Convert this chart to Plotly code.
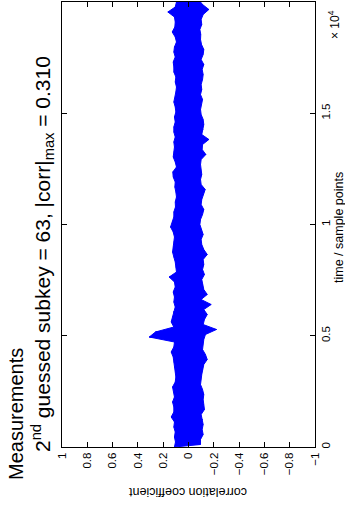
import plotly.graph_objects as go

# ---------------- data ----------------
sample_idx = [0, 225, 449, 674, 899, 1124, 1348, 1573, 1798, 2022, 2247, 2472, 2697, 2921, 3146,
              3371, 3596, 3820, 4045, 4270, 4494, 4719, 4944, 5169, 5393, 5618, 5843, 6067, 6292, 6517,
              6742, 6966, 7191, 7416, 7640, 7865, 8090, 8315, 8539, 8764, 8989, 9213, 9438, 9663, 9888,
              10112, 10337, 10562, 10787, 11011, 11236, 11461, 11685, 11910, 12135, 12360, 12584, 12809, 13034, 13258,
              13483, 13708, 13933, 14157, 14382, 14607, 14831, 15056, 15281, 15506, 15730, 15955, 16180, 16404, 16629,
              16854, 17079, 17303, 17528, 17753, 17978, 18202, 18427, 18652, 18876, 19101, 19326, 19551, 19775, 20000]

corr_upper = [0.111, 0.103, 0.111, 0.105, 0.116, 0.111, 0.137, 0.116, 0.116, 0.126, 0.111, 0.116, 0.126, 0.105, 0.100,
              0.105, 0.111, 0.116, 0.121, 0.137, 0.116, 0.111, 0.310, 0.261, 0.116, 0.137, 0.126, 0.121, 0.105, 0.116,
              0.111, 0.121, 0.105, 0.111, 0.153, 0.095, 0.100, 0.105, 0.116, 0.126, 0.121, 0.116, 0.111, 0.121, 0.142,
              0.129, 0.116, 0.116, 0.103, 0.105, 0.095, 0.100, 0.108, 0.105, 0.121, 0.124, 0.095, 0.105, 0.121, 0.116,
              0.111, 0.116, 0.105, 0.116, 0.116, 0.105, 0.111, 0.100, 0.105, 0.116, 0.105, 0.100, 0.095, 0.105, 0.100,
              0.116, 0.116, 0.121, 0.105, 0.116, 0.111, 0.095, 0.105, 0.129, 0.108, 0.105, 0.111, 0.163, 0.105, 0.095]

corr_lower = [-0.095, -0.095, -0.116, -0.108, -0.116, -0.111, -0.100, -0.126, -0.121, -0.116, -0.121, -0.111, -0.095, -0.100, -0.105,
              -0.111, -0.121, -0.148, -0.134, -0.111, -0.116, -0.121, -0.134, -0.221, -0.116, -0.126, -0.148, -0.121, -0.179, -0.100,
              -0.148, -0.121, -0.111, -0.105, -0.126, -0.111, -0.121, -0.116, -0.148, -0.121, -0.105, -0.100, -0.116, -0.105, -0.090,
              -0.095, -0.111, -0.121, -0.100, -0.105, -0.116, -0.132, -0.100, -0.095, -0.105, -0.100, -0.095, -0.100, -0.137, -0.108,
              -0.111, -0.161, -0.105, -0.116, -0.121, -0.116, -0.100, -0.095, -0.100, -0.111, -0.095, -0.105, -0.100, -0.111, -0.116,
              -0.108, -0.121, -0.100, -0.116, -0.121, -0.103, -0.095, -0.097, -0.090, -0.105, -0.100, -0.116, -0.161, -0.111, -0.095]

corr_ticks = [1, 0.8, 0.6, 0.4, 0.2, 0, -0.2, -0.4, -0.6, -0.8, -1]
corr_tick_labels = ["1", "0.8", "0.6", "0.4", "0.2", "0", "\u22120.2", "\u22120.4", "\u22120.6", "\u22120.8", "\u22121"]
time_ticks = [0, 5000, 10000, 15000, 20000]
time_tick_labels = ["0", "0.5", "1", "1.5", "2"]

title_line1 = "Measurements"
title_line2 = "2<sup>nd</sup> guessed subkey = 63, |corr|<sub>max</sub> = 0.310"
xlabel = "time / sample points"
ylabel = "correlation coefficient"
exponent_label = "\u00d7 10<sup>4</sup>"

# ---------------- build the band ----------------
half = (sample_idx[1] - sample_idx[0]) / 2.0
lower_t = [min(t + half, sample_idx[-1]) for t in sample_idx]

# filled envelope: up the positive side, back down the negative side
poly_x = list(corr_upper) + list(reversed(corr_lower))
poly_y = list(sample_idx) + list(reversed(lower_t))

# zig-zag through the samples (the noisy signal look)
zz_x, zz_y = [], []
for t, tl, hi, lo in zip(sample_idx, lower_t, corr_upper, corr_lower):
    zz_x += [hi, lo]
    zz_y += [t, tl]

W, H = 345, 512
L, R, T, B = 62, 30, 2, 65
pw, ph = W - L - R, H - T - B

def px(x):
    return (x - L) / pw

def py(y):
    return (H - B - y) / ph

FONT = "Liberation Sans, Arial, Helvetica, sans-serif"
BLUE = "#0000ff"

fig = go.Figure()
fig.add_trace(go.Scatter(x=poly_x, y=poly_y, mode="lines", fill="toself",
                         fillcolor=BLUE, line=dict(color=BLUE, width=1),
                         hoverinfo="skip", showlegend=False))
fig.add_trace(go.Scatter(x=zz_x, y=zz_y, mode="lines",
                         line=dict(color=BLUE, width=1),
                         hoverinfo="skip", showlegend=False))

axis_common = dict(showline=True, linecolor="black", linewidth=1, mirror="ticks",
                   ticks="inside", ticklen=5, tickcolor="black", tickwidth=1,
                   showgrid=False, zeroline=False,
                   tickfont=dict(family=FONT, size=11.5, color="black"))

fig.update_xaxes(range=[1, -1], tickvals=corr_ticks, ticktext=corr_tick_labels,
                 tickangle=-90, **axis_common)
fig.update_yaxes(range=[0, 20000], tickvals=time_ticks, ticktext=time_tick_labels,
                 side="right", tickangle=-90, **axis_common)

annots = [
    dict(text=title_line1, x=px(16), y=py(414), textangle=-90,
         font=dict(family=FONT, size=20, color="black")),
    dict(text=title_line2, x=px(42), y=py(254), textangle=-90,
         font=dict(family=FONT, size=21, color="black")),
    dict(text=xlabel, x=px(339), y=py(228), textangle=-90,
         font=dict(family=FONT, size=12.5, color="black")),
    dict(text=ylabel, x=px(188), y=py(492), textangle=180,
         font=dict(family=FONT, size=12.5, color="black")),
    dict(text=exponent_label, x=px(334), y=py(25), textangle=-90,
         font=dict(family=FONT, size=12, color="black")),
]
for a in annots:
    a.update(xref="paper", yref="paper", showarrow=False, xanchor="center", yanchor="middle")
fig.update_layout(annotations=annots)

fig.update_layout(width=W, height=H, margin=dict(l=L, r=R, t=T, b=B),
                  paper_bgcolor="white", plot_bgcolor="white")

fig.write_html("out.html")
